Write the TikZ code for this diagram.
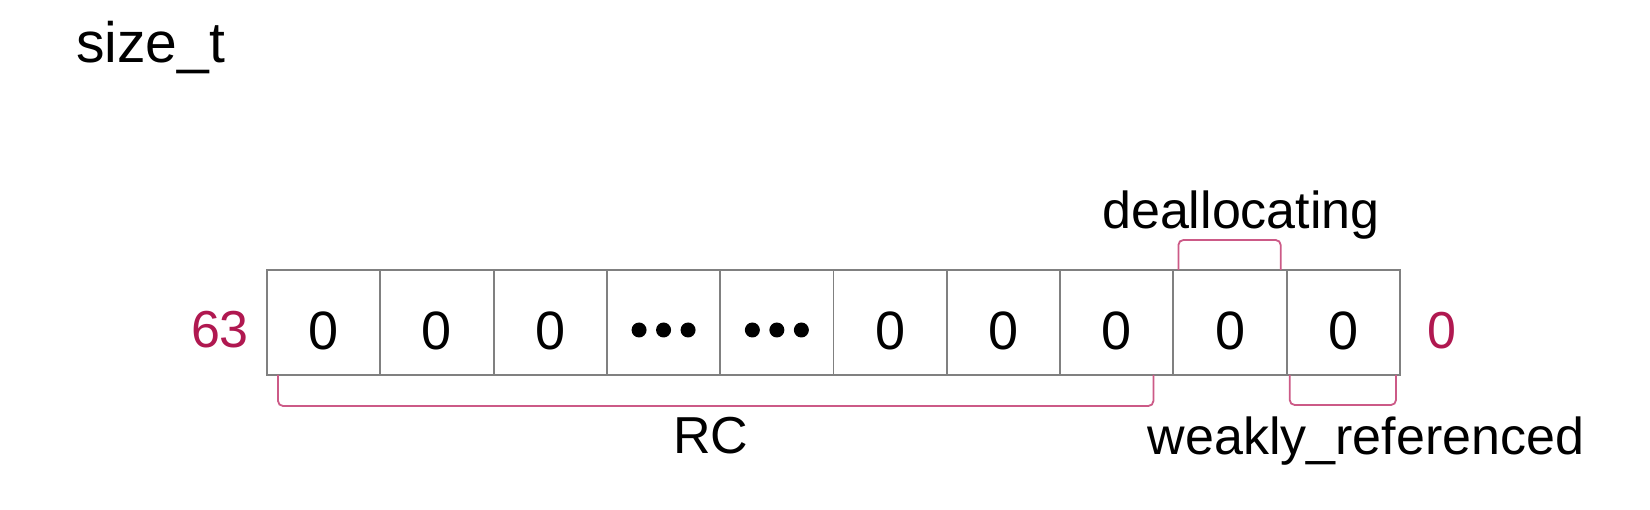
\documentclass[tikz,border=0pt]{standalone}
\usepackage{fontspec}
\setmainfont{Liberation Sans}
\definecolor{bitred}{RGB}{176,24,80}
\definecolor{brkpink}{RGB}{204,90,135}
\definecolor{cellgray}{RGB}{128,128,128}
\begin{document}
\begin{tikzpicture}[x=1pt,y=-1pt,
  cellbox/.style={draw=cellgray,line width=1.9pt,minimum width=113.3pt,minimum height=105pt,inner sep=0pt,outer sep=0pt,anchor=north west},
  digit/.style={inner sep=0pt,anchor=base,font=\fontsize{54}{60}\selectfont},
  lbl/.style={inner sep=0pt,anchor=base,font=\fontsize{52}{60}\selectfont},
  redlbl/.style={inner sep=0pt,anchor=base,text=bitred,font=\fontsize{52}{60}\selectfont},
  brk/.style={draw=brkpink,line width=1.8pt,rounded corners=5pt},
  dotmark/.style={circle,fill=black,inner sep=0pt,minimum size=15pt}]
\useasboundingbox (0,0) rectangle (1650,510);
\fill[white] (0,0) rectangle (1650,510);
% title
\node[inner sep=0pt,anchor=base west,font=\fontsize{57}{64}\selectfont] (title) at (76,63) {size\_t};
% cells
\foreach \i in {1,...,10} {
  \node[cellbox] (c\i) at ({267+(\i-1)*113.3},270) {};
}
\foreach \i in {1,2,3,6,7,8,9,10} {
  \node[digit] (d\i) at ([yshift=-27.5pt]c\i.center) {0};
}
% dots
\foreach \i in {4,5} {
  \node[dotmark] (p\i a) at ([xshift=-24.5pt,yshift=-7.5pt]c\i.center) {};
  \node[dotmark] (p\i b) at ([yshift=-7.5pt]c\i.center) {};
  \node[dotmark] (p\i c) at ([xshift=24.5pt,yshift=-7.5pt]c\i.center) {};
}
% bit indices
\node[redlbl] (hi) at (220,348) {63};
\node[redlbl] (lo) at (1442,349) {0};
% brackets
\draw[brk] ([xshift=11pt]c1.south west) -- ([xshift=11pt,yshift=-31pt]c1.south west)
  -- ([xshift=-20pt,yshift=-31pt]c8.south east) -- ([xshift=-20pt]c8.south east);
\draw[brk] ([xshift=5pt]c9.north west) -- ([xshift=5pt,yshift=30pt]c9.north west)
  -- ([xshift=-6pt,yshift=30pt]c9.north east) -- ([xshift=-6pt]c9.north east);
\draw[brk] ([xshift=3pt]c10.south west) -- ([xshift=3pt,yshift=-30pt]c10.south west)
  -- ([xshift=-4pt,yshift=-30pt]c10.south east) -- ([xshift=-4pt]c10.south east);
% labels
\node[lbl] (rc) at (711,454) {RC};
\node[lbl] (dealloc) at (1241,229) {deallocating};
\node[lbl] (weak) at (1366,455) {weakly\_referenced};
\end{tikzpicture}
\end{document}
